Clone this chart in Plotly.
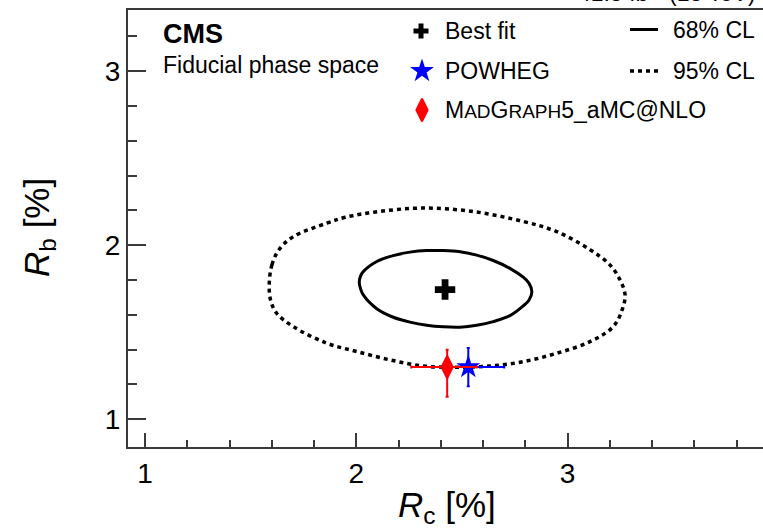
import plotly.graph_objects as go

# ---------------------------------------------------------------
# Measured ratios R_c = ttcc/ttjj and R_b = ttbb/ttjj (in %)
# ---------------------------------------------------------------
best_fit_rc = [2.42]
best_fit_rb = [1.745]

powheg_rc = [2.53]
powheg_rb = [1.30]
powheg_rc_err = [0.17]
powheg_rb_err = [0.11]

madgraph_rc = [2.43]
madgraph_rb = [1.30]
madgraph_rc_err_plus = [0.14]
madgraph_rc_err_minus = [0.17]
madgraph_rb_err_plus = [0.10]
madgraph_rb_err_minus = [0.17]

# 68% CL contour (closed)
cl68_rc = [2.014, 2.020, 2.033, 2.097, 2.175, 2.254, 2.333, 2.412, 2.491, 2.570,
           2.648, 2.727, 2.790, 2.817, 2.831, 2.817, 2.790, 2.727, 2.648, 2.570,
           2.491, 2.412, 2.333, 2.254, 2.175, 2.097, 2.033, 2.020, 2.014]
cl68_rb = [1.787, 1.822, 1.848, 1.906, 1.940, 1.960, 1.969, 1.969, 1.962, 1.943,
           1.912, 1.867, 1.816, 1.782, 1.733, 1.684, 1.651, 1.595, 1.561, 1.540,
           1.529, 1.531, 1.540, 1.558, 1.586, 1.635, 1.714, 1.750, 1.787]

# 95% CL contour (closed)
cl95_rc = [1.588, 1.601, 1.634, 1.702, 1.860, 1.947, 2.112, 2.317, 2.554,
           2.790, 2.948, 3.106, 3.200, 3.248, 3.272, 3.258, 3.216, 3.106,
           2.948, 2.790, 2.633, 2.475, 2.317, 2.160, 2.002, 1.860, 1.702,
           1.623, 1.594, 1.588]
cl95_rb = [1.778, 1.888, 1.974, 2.049, 2.126, 2.160, 2.194, 2.213, 2.193,
           2.136, 2.078, 1.974, 1.887, 1.801, 1.714, 1.628, 1.532, 1.446,
           1.379, 1.331, 1.306, 1.299, 1.306, 1.341, 1.389, 1.437, 1.532,
           1.609, 1.686, 1.778]

x_range = [0.9195, 3.9248]
y_range = [0.8408, 3.3506]
major_ticks = [1, 2, 3]

# ---------------------------------------------------------------
# Page geometry (pixels)
# ---------------------------------------------------------------
W, H = 763, 529
L, R, T, B = 128, 763, 10, 447

FONT = "Liberation Sans, Arial, Helvetica, sans-serif"
AXIS_COLOR = "#3a3a3a"
BLUE = "#0000ff"
RED = "#ff0000"


def paper_x(px):
    return (px - L) / (R - L)


def paper_y(py):
    return (B - py) / (B - T)


fig = go.Figure()

# Confidence-level contours
fig.add_trace(go.Scatter(
    x=cl95_rc, y=cl95_rb, mode="lines",
    line=dict(color="black", width=3.5, dash="4px,4px", shape="spline",
              smoothing=1.0, simplify=False),
    showlegend=False, hoverinfo="skip"))
fig.add_trace(go.Scatter(
    x=cl68_rc, y=cl68_rb, mode="lines",
    line=dict(color="black", width=3, shape="spline", smoothing=1.0, simplify=False),
    showlegend=False, hoverinfo="skip"))

# Best fit point
fig.add_trace(go.Scatter(
    x=best_fit_rc, y=best_fit_rb, mode="markers",
    marker=dict(symbol="cross", size=17, color="black", line=dict(width=0)),
    showlegend=False))

# POWHEG prediction
fig.add_trace(go.Scatter(
    x=powheg_rc, y=powheg_rb, mode="markers",
    marker=dict(symbol="star", size=18, color=BLUE, line=dict(width=0)),
    error_x=dict(type="data", array=powheg_rc_err, color=BLUE, thickness=2, width=1.5),
    error_y=dict(type="data", array=powheg_rb_err, color=BLUE, thickness=2, width=1.5),
    showlegend=False))

# MadGraph5_aMC@NLO prediction
fig.add_trace(go.Scatter(
    x=madgraph_rc, y=madgraph_rb, mode="markers",
    marker=dict(symbol="diamond-tall", size=16, color=RED, line=dict(width=2, color=RED)),
    error_x=dict(type="data", array=madgraph_rc_err_plus, arrayminus=madgraph_rc_err_minus,
                 color=RED, thickness=2, width=1.5),
    error_y=dict(type="data", array=madgraph_rb_err_plus, arrayminus=madgraph_rb_err_minus,
                 color=RED, thickness=2, width=1.5),
    showlegend=False))

# ---------------------------------------------------------------
# Hand-placed legend on an overlay axis measured in pixels
# ---------------------------------------------------------------
legend_markers = [
    dict(x=421, y=31, symbol="cross", size=12.5, color="black", lw=0),
    dict(x=422, y=71, symbol="star", size=18, color=BLUE, lw=0),
    dict(x=422, y=110, symbol="diamond-tall", size=16, color=RED, lw=2),
]
for m in legend_markers:
    fig.add_trace(go.Scatter(
        x=[m["x"]], y=[m["y"]], xaxis="x2", yaxis="y2", mode="markers",
        marker=dict(symbol=m["symbol"], size=m["size"], color=m["color"],
                    line=dict(width=m["lw"], color=m["color"])),
        showlegend=False, hoverinfo="skip"))

legend_lines = [
    dict(y=29.5, dash="solid", width=3),
    dict(y=71, dash="4px,4px", width=3.5),
]
for ln in legend_lines:
    fig.add_trace(go.Scatter(
        x=[630, 658], y=[ln["y"], ln["y"]], xaxis="x2", yaxis="y2", mode="lines",
        line=dict(color="black", width=ln["width"], dash=ln["dash"]),
        showlegend=False, hoverinfo="skip"))

small = '<span style="font-size:19px">{}</span>'
legend_texts = [
    (443, 31, "Best fit"),
    (443, 71, "POWHEG"),
    (443, 110, "M" + small.format("AD") + "G" + small.format("RAPH") + "5_aMC@NLO"),
    (671, 30, "68% CL"),
    (671, 71, "95% CL"),
]

annotations = []
for x, y, txt in legend_texts:
    annotations.append(dict(
        x=paper_x(x), y=paper_y(y), xref="paper", yref="paper", text=txt,
        showarrow=False, xanchor="left", yanchor="middle",
        font=dict(size=23, color="black", family=FONT)))

# Experiment label and phase-space note
annotations.append(dict(x=paper_x(161), y=paper_y(34), xref="paper", yref="paper",
                        text="<b>CMS</b>", showarrow=False, xanchor="left", yanchor="middle",
                        font=dict(size=27, color="black", family=FONT)))
annotations.append(dict(x=paper_x(161), y=paper_y(65), xref="paper", yref="paper",
                        text="Fiducial phase space", showarrow=False, xanchor="left",
                        yanchor="middle", font=dict(size=23, color="black", family=FONT)))

# Luminosity label above the frame
annotations.append(dict(x=paper_x(758), y=paper_y(8), xref="paper", yref="paper",
                        text="41.5 fb<sup>-1</sup> (13 TeV)", showarrow=False,
                        xanchor="right", yanchor="bottom",
                        font=dict(size=23, color="black", family=FONT)))

# Axis titles
annotations.append(dict(x=paper_x(447), y=paper_y(507), xref="paper", yref="paper",
                        text="<i>R</i><sub>c</sub> [%]", showarrow=False,
                        xanchor="center", yanchor="middle",
                        font=dict(size=35, color="black", family=FONT)))
annotations.append(dict(x=paper_x(39), y=paper_y(227), xref="paper", yref="paper",
                        text="<i>R</i><sub>b</sub> [%]", showarrow=False, textangle=-90,
                        xanchor="center", yanchor="middle",
                        font=dict(size=35, color="black", family=FONT)))

fig.update_layout(
    width=W, height=H,
    margin=dict(l=L, r=W - R, t=T, b=H - B, pad=0),
    paper_bgcolor="white", plot_bgcolor="white",
    font=dict(family=FONT, color="black"),
    showlegend=False,
    annotations=annotations,
    xaxis=dict(
        range=x_range, tickvals=major_ticks, ticktext=[str(v) for v in major_ticks],
        ticks="inside", ticklen=14, tickwidth=1.5, tickcolor=AXIS_COLOR,
        showline=True, linewidth=2, linecolor=AXIS_COLOR, mirror=True,
        showgrid=False, zeroline=False,
        tickfont=dict(size=28, color="black", family=FONT),
        minor=dict(dtick=0.2, tick0=0, ticks="inside", ticklen=7, tickwidth=1.5,
                   tickcolor=AXIS_COLOR, showgrid=False),
    ),
    yaxis=dict(
        range=y_range, tickvals=major_ticks, ticktext=[str(v) for v in major_ticks],
        ticks="inside", ticklen=18, tickwidth=1.5, tickcolor=AXIS_COLOR,
        showline=True, linewidth=2, linecolor=AXIS_COLOR, mirror=False,
        showgrid=False, zeroline=False,
        tickfont=dict(size=28, color="black", family=FONT),
        minor=dict(dtick=0.2, tick0=0, ticks="inside", ticklen=9, tickwidth=1.5,
                   tickcolor=AXIS_COLOR, showgrid=False),
    ),
    xaxis2=dict(overlaying="x", range=[L, R], visible=False, anchor="y2"),
    yaxis2=dict(overlaying="y", range=[B, T], visible=False, anchor="x2"),
)

fig.write_html("out.html")
